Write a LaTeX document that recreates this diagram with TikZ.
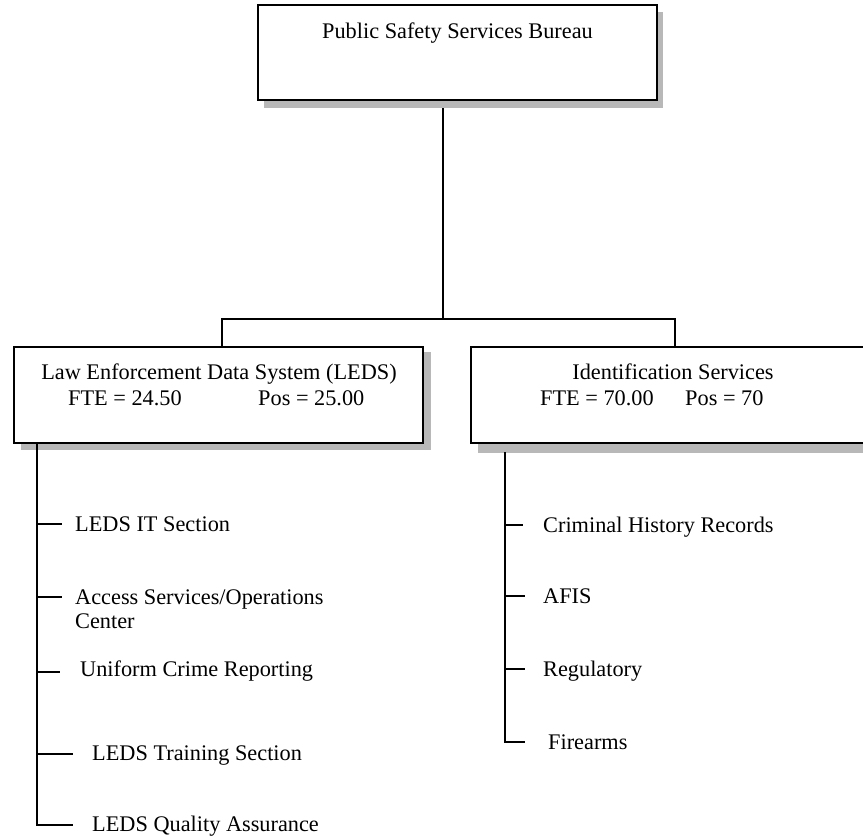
\documentclass[tikz,border=0pt]{standalone}
\usepackage{fontspec}
\setmainfont{Liberation Serif}
\usetikzlibrary{calc}
\begin{document}
\begin{tikzpicture}[x=1pt,y=-1pt]
\tikzset{
  orgbox/.style={draw=black, line width=1.4pt, fill=white, rectangle, inner sep=0pt},
  boxshadow/.style={fill=black!28},
  link/.style={draw=black, line width=1.3pt},
  txt/.style={font=\fontsize{22.3}{24}\selectfont, inner sep=0pt},
}
\useasboundingbox (0,0) rectangle (863,838);

% junction points of the connectors
\coordinate (topdrop) at (443,319);
\coordinate (ljoin) at (222,319);
\coordinate (rjoin) at (675,319);
\coordinate (ltrunk) at (37,443);
\coordinate (rtrunk) at (505,452);

% connectors drawn first so shadows sit over them
\draw[link] (topdrop |- 0,100) -- (topdrop);
\draw[link] (ljoin |- 0,347) -- (ljoin) -- (rjoin) -- (rjoin |- 0,347);

% shadows
\fill[boxshadow] (264,12) rectangle (663,108);
\fill[boxshadow] (21,352) rectangle (431,450);
\fill[boxshadow] (478,352) rectangle (883,453);

% boxes
\node[orgbox, minimum width=399pt, minimum height=95pt] (psb) at (457.5,52.5) {};
\node[orgbox, minimum width=409pt, minimum height=96pt] (leds) at (218.5,395) {};
\node[orgbox, minimum width=404pt, minimum height=96pt] (ids) at (673,395) {};

% box texts
\node[txt, anchor=base] (psbt) at (457.5,38) {Public Safety Services Bureau};
\node[txt, anchor=base] (ledst) at (219,379) {Law Enforcement Data System (LEDS)};
\node[txt, anchor=base west] (ledsfte) at (68,405) {FTE = 24.50};
\node[txt, anchor=base west] (ledspos) at (258,405) {Pos = 25.00};
\node[txt, anchor=base] (idst) at (673,379) {Identification Services};
\node[txt, anchor=base west] (idsfte) at (540,405) {FTE = 70.00};
\node[txt, anchor=base west] (idspos) at (685,405) {Pos = 70};

% LEDS units
\coordinate (itend) at (62,524);
\coordinate (acend) at (62,597);
\coordinate (ucend) at (60,672);
\coordinate (trend) at (73,754);
\coordinate (qaend) at (73,825);
\node[txt, anchor=base west] (it) at (75,531) {LEDS IT Section};
\node[txt, anchor=base west, align=left] (ac) at (75,604) {Access Services/Operations};
\node[txt, anchor=base west] (acc) at (75,628) {Center};
\node[txt, anchor=base west] (uc) at (80,676) {Uniform Crime Reporting};
\node[txt, anchor=base west] (tr) at (92,760) {LEDS Training Section};
\node[txt, anchor=base west] (qa) at (92,831) {LEDS Quality Assurance};

\draw[link] (ltrunk) |- (qaend);
\draw[link] (ltrunk |- itend) -- (itend);
\draw[link] (ltrunk |- acend) -- (acend);
\draw[link] (ltrunk |- ucend) -- (ucend);
\draw[link] (ltrunk |- trend) -- (trend);

% Identification Services units
\coordinate (chend) at (523,525);
\coordinate (afend) at (525,596);
\coordinate (rgend) at (525,669);
\coordinate (faend) at (525,742);
\node[txt, anchor=base west] (ch) at (543,532) {Criminal History Records};
\node[txt, anchor=base west] (af) at (543,603) {AFIS};
\node[txt, anchor=base west] (rg) at (543,676) {Regulatory};
\node[txt, anchor=base west] (fa) at (548,749) {Firearms};

\draw[link] (rtrunk) |- (faend);
\draw[link] (rtrunk |- chend) -- (chend);
\draw[link] (rtrunk |- afend) -- (afend);
\draw[link] (rtrunk |- rgend) -- (rgend);
\end{tikzpicture}
\end{document}
